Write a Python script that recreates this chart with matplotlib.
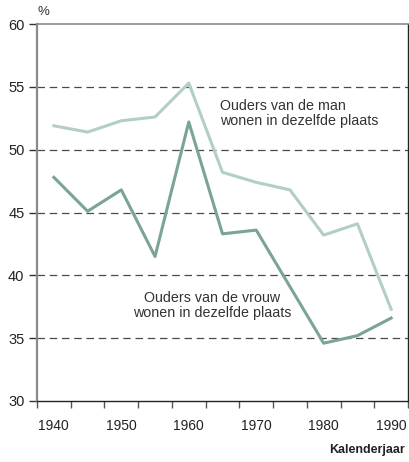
import numpy as np
import matplotlib
matplotlib.use("Agg")
import matplotlib.pyplot as plt

plt.rcParams['font.family'] = ['Liberation Sans', 'DejaVu Sans']

# Data
years_man = [1940, 1945, 1950, 1955, 1960, 1965, 1970, 1975, 1980, 1985, 1990]
pct_man = [51.9, 51.4, 52.3, 52.6, 55.3, 48.2, 47.4, 46.8, 43.2, 44.1, 37.3]

years_vrouw = [1940, 1945, 1950, 1955, 1960, 1965, 1970, 1980, 1985, 1990]
pct_vrouw = [47.8, 45.1, 46.8, 41.5, 52.2, 43.3, 43.6, 34.6, 35.2, 36.6]

year_labels = [1940, 1950, 1960, 1970, 1980, 1990]
grid_levels = [35, 40, 45, 50, 55]

LIGHT = '#b3cec3'
DARK = '#7aa494'

fig = plt.figure(figsize=(4.09, 4.62), dpi=100)
ax = fig.add_axes([37 / 409, 1 - 401 / 462, 371 / 409, 377 / 462])

# dashed reference lines
for lvl in grid_levels:
    ax.axhline(lvl, color='#4a4a4a', lw=0.9, dashes=(6, 3.8), zorder=1)

ax.plot(years_man, pct_man, color=LIGHT, lw=2.2, zorder=3)
ax.plot(years_vrouw, pct_vrouw, color=DARK, lw=2.2, zorder=3)

ax.set_xlim(1937.5, 1992.5)
ax.set_ylim(30, 60)

# tick marks at interval borders, labels in the middle
ax.set_xticks(np.arange(1937.5, 1993, 5))
ax.set_xticklabels([])
ax.set_xticks(year_labels, minor=True)
ax.set_xticklabels([str(y) for y in year_labels], minor=True)
ax.tick_params(axis='x', which='major', length=5, width=1, color='#555555', direction='out')
ax.tick_params(axis='x', which='minor', length=0, pad=13, labelsize=10, labelcolor='#222222')

ax.set_yticks([30, 35, 40, 45, 50, 55, 60])
ax.tick_params(axis='y', length=6, width=1, color='#333333', labelsize=10.5,
               labelcolor='#222222', pad=3)

ax.spines['left'].set_color('#8a8a8a')
ax.spines['left'].set_linewidth(1.6)
ax.spines['top'].set_color('#8a8a8a')
ax.spines['top'].set_linewidth(1.2)
ax.spines['bottom'].set_color('#222222')
ax.spines['bottom'].set_linewidth(1.0)
ax.spines['right'].set_color('#222222')
ax.spines['right'].set_linewidth(1.0)

ax.text(1964.7, 52.9, "Ouders van de man\nwonen in dezelfde plaats",
        fontsize=10.3, color='#333333', ha='left', va='center', linespacing=1.12)
ax.text(1963.4, 37.6, "Ouders van de vrouw\nwonen in dezelfde plaats",
        fontsize=10.3, color='#333333', ha='center', va='center', linespacing=1.12)

fig.text(43 / 409, 1 - 12 / 462, "%", fontsize=9.5, color='#333333', ha='center', va='center')
fig.text(405 / 409, 1 - 450 / 462, "Kalenderjaar", fontsize=9, fontweight='bold',
         color='#222222', ha='right', va='center')

fig.savefig("out.png", dpi=100)
